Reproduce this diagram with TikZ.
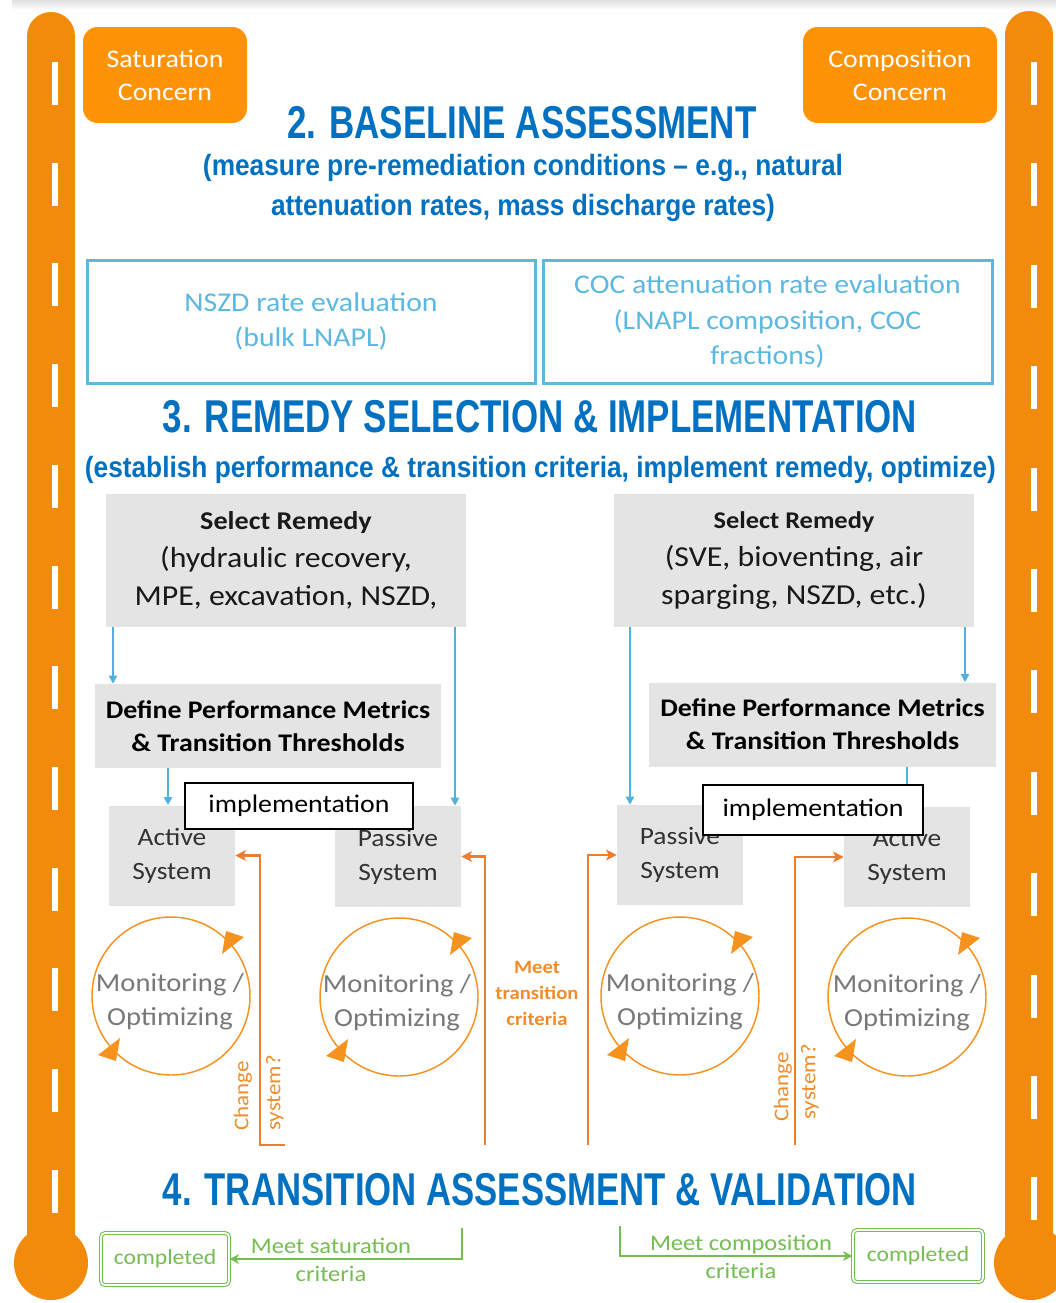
\documentclass[tikz,border=0pt]{standalone}
\usepackage{fontspec}
\usepackage{graphicx}
\usetikzlibrary{arrows.meta,calc}
\setmainfont{Carlito}
\newfontfamily\bodyfont[FakeStretch=1.1]{Carlito}
\newfontfamily\headfont{Liberation Sans}
\newcommand\fsz[2]{\fontsize{#1}{#2}\selectfont}
% heading line squeezed to a given width, height kept
\newcommand\headline[3]{\resizebox{#1}{\height}{\headfont\bfseries\fsz{#2}{#2}#3}}

\definecolor{barorange}{RGB}{242,139,12}
\definecolor{boxorange}{RGB}{254,147,8}
\definecolor{titleblue}{RGB}{0,112,192}
\definecolor{lightblue}{RGB}{92,184,224}
\definecolor{arrowblue}{RGB}{80,176,222}
\definecolor{gbox}{RGB}{228,228,228}
\definecolor{nearblack}{RGB}{25,25,25}
\definecolor{systext}{RGB}{50,50,50}
\definecolor{looptext}{RGB}{120,120,120}
\definecolor{circorange}{RGB}{246,146,30}
\definecolor{lineorange}{RGB}{237,125,49}
\definecolor{textorange}{RGB}{241,140,40}
\definecolor{greenline}{RGB}{116,189,82}

% two arrowheads on a monitoring ring
\newcommand\loopheads[1]{%
  \fill[circorange] ($(#1)+(73,-59)$) -- ($(#1)+(51,-42)$) -- ($(#1)+(55,-65)$) -- cycle;
  \fill[circorange] ($(#1)+(-73,59)$) -- ($(#1)+(-51,42)$) -- ($(#1)+(-55,65)$) -- cycle;}

\begin{document}
\begin{tikzpicture}[x=0.75pt,y=-0.75pt,
  concern/.style={fill=boxorange, rounded corners=11pt, text=white, align=center, inner sep=0pt,
    font=\bodyfont\fsz{19pt}{24.75pt}},
  evalbox/.style={draw=lightblue, line width=2.25pt, text=lightblue, align=center, inner sep=0pt,
    minimum height=92.25pt, font=\bodyfont\fsz{20.3pt}{26.5pt}},
  greybox/.style={fill=gbox, align=center, inner sep=0pt},
  remedy/.style={greybox, text=nearblack, minimum width=270pt, minimum height=99.75pt,
    font=\bodyfont\fsz{21.7pt}{28.5pt}},
  metrics/.style={greybox, text=black, minimum height=63pt, font=\bodyfont\bfseries\fsz{19pt}{25pt}},
  system/.style={greybox, text=systext, minimum width=94.5pt, minimum height=75pt,
    font=\bodyfont\fsz{18.7pt}{25.5pt}},
  implbox/.style={fill=white, draw=black, line width=1.1pt, inner sep=0pt,
    font=\bodyfont\fsz{19pt}{22pt}},
  loopring/.style={circle, draw=circorange, line width=1.1pt, minimum size=118.5pt, inner sep=0pt},
  looplabel/.style={text=looptext, align=center, font=\bodyfont\fsz{19.5pt}{25.5pt}},
  bluearrow/.style={draw=arrowblue, line width=1.5pt, -{Triangle[length=6pt,width=6pt]}},
  orangearrow/.style={draw=lineorange, line width=1.9pt, -{Stealth[length=8pt,width=8pt,inset=2pt]}},
  orangelabel/.style={text=textorange, align=center, font=\bodyfont\fsz{15.7pt}{20pt}},
  greenarrow/.style={draw=greenline, line width=1.5pt, -{Stealth[length=7pt,width=7pt,inset=2pt]}},
  greenlabel/.style={text=greenline, align=center, font=\bodyfont\fsz{16.7pt}{21pt}},
  donebox/.style={draw=greenline, double=white, double distance=1.3pt, line width=0.8pt,
    rounded corners=3pt, text=greenline, inner sep=0pt, minimum height=39pt,
    font=\bodyfont\fsz{16.1pt}{18pt}},
  heading/.style={text=titleblue, inner sep=0pt}]

\useasboundingbox (0,0) rectangle (1056,1303);
\fill[white] (0,0) rectangle (1056,1303);
\shade[top color=black!12, bottom color=white] (12,0) rectangle (1056,10);

% ---- thermometer bars ----
\fill[barorange, rounded corners=18pt] (27,1263) rectangle (75,12);
\fill[barorange] (51,1263) circle[radius=27.75pt];
\foreach \i in {0,...,11}
  \fill[white] (52,{62+\i*100.7}) rectangle (58,{105+\i*100.7});
\fill[barorange, rounded corners=18pt] (1005,1263) rectangle (1053,11);
\fill[barorange] (1031,1263) circle[radius=27.75pt];
\foreach \i in {0,...,11}
  \fill[white] (1031,{62+\i*101.4}) rectangle (1037,{105+\i*101.4});

% ---- concern tags ----
\node[concern, minimum width=123pt, minimum height=72pt] (satC) at (165,75) {Saturation\\Concern};
\node[concern, minimum width=145.5pt, minimum height=72pt] (comC) at (900,75) {Composition\\Concern};

% ---- 2. baseline ----
\node[heading] (t2) at (522,123) {\headline{351.75pt}{34.5pt}{2. BASELINE ASSESSMENT}};
\node[heading] (s2a) at (523,168) {\headline{480pt}{22pt}{(measure pre-remediation conditions – e.g., natural}};
\node[heading] (s2b) at (523,208) {\headline{378pt}{22pt}{attenuation rates, mass discharge rates)}};

\node[evalbox, minimum width=336pt] (nszd) at (311,321.5) {NSZD rate evaluation\\(bulk LNAPL)};
\node[evalbox, minimum width=336.75pt] (coc) at (767.5,321.5) {COC attenuation rate evaluation\\(LNAPL composition, COC\\fractions)};

% ---- 3. remedy ----
\node[heading] (t3) at (540,417) {\headline{565.5pt}{34.5pt}{3. REMEDY SELECTION \& IMPLEMENTATION}};
\node[heading] (s3) at (540.5,470) {\headline{683.25pt}{22pt}{(establish performance \& transition criteria, implement remedy, optimize)}};

\node[remedy] (selL) at (286,560.5) {\textbf{\fsz{19.2pt}{28.5pt}Select Remedy}\\(hydraulic recovery,\\MPE, excavation, NSZD,};
\node[remedy] (selR) at (794,560.5) {\textbf{\fsz{18pt}{28.5pt}Select Remedy}\\(SVE, bioventing, air\\sparging, NSZD, etc.)};

\node[metrics, minimum width=259.5pt] (dpmL) at (268,726) {Define Performance Metrics\\\& Transition Thresholds};
\node[metrics, minimum width=260.25pt] (dpmR) at (822.5,724.5) {Define Performance Metrics\\\& Transition Thresholds};

\node[system] (actL) at (172,855.5) {Active\\System};
\node[system, minimum height=75.75pt] (pasL) at (398,856.5) {Passive\\System};
\node[system] (pasR) at (680,855) {Passive\\System};
\node[system] (actR) at (907,857) {Active\\System};

\coordinate (colA) at (113,0);
\coordinate (colB) at (455,0);
\coordinate (colC) at (630,0);
\coordinate (colD) at (965,0);
\coordinate (colE) at (168,0);
\coordinate (colF) at (907,0);
\draw[bluearrow] (selL.south -| colA) -- (dpmL.north -| colA);
\draw[bluearrow] (selL.south -| colB) -- (pasL.north -| colB);
\draw[bluearrow] (selR.south -| colC) -- (pasR.north -| colC);
\draw[bluearrow] (selR.south -| colD) -- (dpmR.north -| colD);
\draw[bluearrow] (dpmL.south -| colE) -- (actL.north -| colE);
\draw[bluearrow] (dpmR.south -| colF) -- (actR.north -| colF);

\node[implbox, minimum width=171pt, minimum height=34.5pt] (implL) at (299,806) {implementation};
\node[implbox, minimum width=165pt, minimum height=37.5pt] (implR) at (813,810) {implementation};

% ---- monitoring loops ----
\node[loopring] (m1) at (171,996) {};
\node[loopring] (m2) at (399,997) {};
\node[loopring] (m3) at (680,996) {};
\node[loopring] (m4) at (907,997) {};
\loopheads{m1}\loopheads{m2}\loopheads{m3}\loopheads{m4}
\node[looplabel] (m1t) at (170,1002) {Monitoring /\\Optimizing};
\node[looplabel] (m2t) at (397,1003) {Monitoring /\\Optimizing};
\node[looplabel] (m3t) at (680,1002) {Monitoring /\\Optimizing};
\node[looplabel] (m4t) at (907,1003) {Monitoring /\\Optimizing};

% ---- feedback to the systems ----
\coordinate (chgLfoot) at (285,1145);
\coordinate (chgL) at (260,1145);
\coordinate (metL) at (485,1145);
\coordinate (metR) at (588,1145);
\coordinate (chgR) at (795,1145);
\draw[orangearrow] (chgLfoot) -- (chgL) |- (actL);
\draw[orangearrow] (metL) |- (pasL);
\draw[orangearrow] (metR) |- (pasR);
\draw[orangearrow] (chgR) |- (actR);

\node[orangelabel, font=\bodyfont\bfseries\fsz{14.1pt}{19.5pt}] (meetT) at (537,993) {Meet\\transition\\criteria};
\node[orangelabel, rotate=90] (chgLa) at (243,1096) {Change};
\node[orangelabel, rotate=90] (chgLb) at (275,1093) {system?};
\node[orangelabel, rotate=90] (chgRa) at (783,1087) {Change};
\node[orangelabel, rotate=90] (chgRb) at (810,1082) {system?};

% ---- 4. transition ----
\node[heading] (t4) at (540,1190) {\headline{565.5pt}{34.5pt}{4. TRANSITION ASSESSMENT \& VALIDATION}};

\node[donebox, minimum width=96pt] (doneL) at (165,1259) {completed};
\node[donebox, minimum width=97.5pt] (doneR) at (918,1256) {completed};
\coordinate (satDrop) at (462,1228);
\coordinate (comDrop) at (620,1226);
\draw[greenarrow] (satDrop) |- (doneL);
\draw[greenarrow] (comDrop) |- (doneR);
\node[greenlabel] (satCrit) at (331,1260) {Meet saturation\\criteria};
\node[greenlabel] (comCrit) at (741,1257) {Meet composition\\criteria};

\end{tikzpicture}
\end{document}
